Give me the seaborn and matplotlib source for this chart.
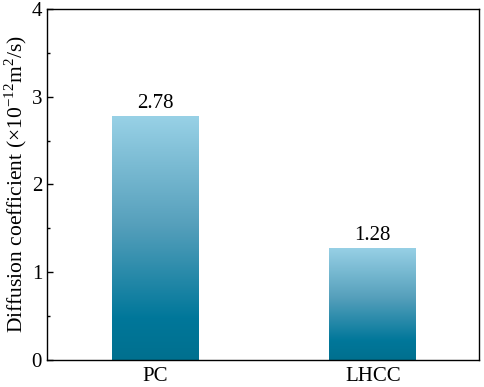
import numpy as np
import pandas as pd
import seaborn as sns
import matplotlib.pyplot as plt
from matplotlib.colors import LinearSegmentedColormap
from matplotlib.ticker import MultipleLocator

materials = ["PC", "LHCC"]
diffusion = [2.78, 1.28]
value_labels = ["2.78", "1.28"]

sns.set_style("ticks")
plt.rcParams["font.family"] = ["Liberation Serif", "DejaVu Serif"]
plt.rcParams["mathtext.fontset"] = "custom"
plt.rcParams["mathtext.rm"] = "Liberation Serif"
plt.rcParams["text.color"] = "black"
plt.rcParams["axes.labelcolor"] = "black"
plt.rcParams["xtick.color"] = "black"
plt.rcParams["ytick.color"] = "black"
plt.rcParams["axes.edgecolor"] = "black"

df = pd.DataFrame({"material": materials, "D": diffusion})

fig = plt.figure(figsize=(4.84, 3.87), dpi=100)
ax = fig.add_axes([0.097, 0.07, 0.893, 0.907])
sns.barplot(data=df, x="material", y="D", width=0.4, color="#4a98b5", ax=ax)

# gradient fill, light on top and dark teal at the base
cmap = LinearSegmentedColormap.from_list(
    "bar", [(0.0, "#00708f"), (0.17, "#00779a"), (0.55, "#559fbb"), (1.0, "#98d1e6")])
grad = np.linspace(0, 1, 256).reshape(-1, 1)
for bar in ax.patches:
    x0, y0 = bar.get_x(), bar.get_y()
    w, h = bar.get_width(), bar.get_height()
    bar.set_facecolor("none")
    bar.set_edgecolor("none")
    im = ax.imshow(grad, cmap=cmap, origin="lower", aspect="auto",
                   extent=[x0, x0 + w, y0, y0 + h], zorder=2)
    im.set_clip_path(bar)

for i, (v, lab) in enumerate(zip(diffusion, value_labels)):
    ax.text(i, v + 0.03, lab, ha="center", va="bottom", fontsize=15, color="black")

ax.set_xlim(-0.5, 1.49)
ax.set_ylim(0, 4)
ax.yaxis.set_major_locator(MultipleLocator(1))
ax.yaxis.set_minor_locator(MultipleLocator(0.5))
ax.tick_params(direction="in", labelsize=15, width=1, length=4, colors="black")
ax.tick_params(which="minor", direction="in", length=2.5, width=1)
ax.tick_params(axis="x", length=4, pad=5)
for s in ax.spines.values():
    s.set_linewidth(1)
    s.set_color("black")
    s.set_visible(True)
ax.set_xlabel("")
ax.set_ylabel("Diffusion coefficient (×10$^{\\mathregular{-12}}$m$^{\\mathregular{2}}$/s)",
              fontsize=15.5, color="black", labelpad=2)

fig.savefig("out.png", dpi=100)
